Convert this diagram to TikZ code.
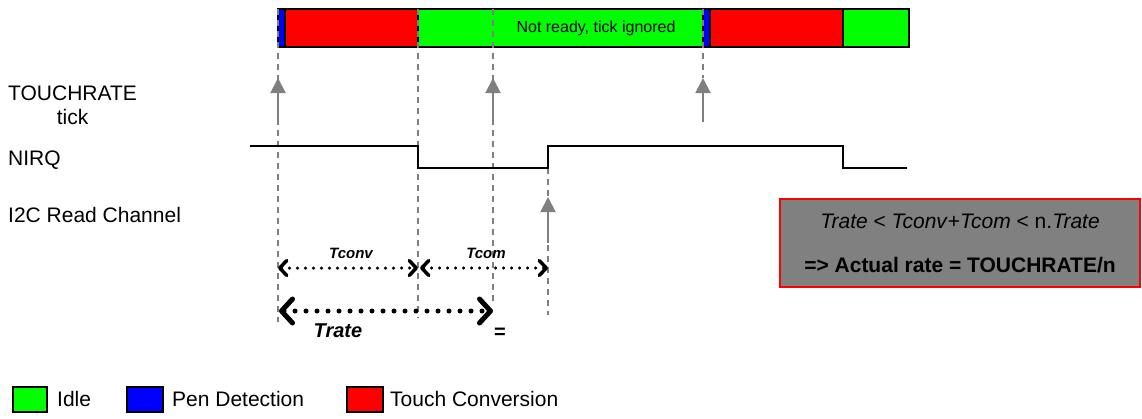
\documentclass[tikz,border=0pt]{standalone}
\usepackage{fontspec}
\setmainfont{Liberation Sans}
\usetikzlibrary{arrows.meta}

\definecolor{idlegreen}{RGB}{0,255,0}
\definecolor{penblue}{RGB}{0,0,255}
\definecolor{convred}{RGB}{255,0,0}
\definecolor{guidegray}{RGB}{128,128,128}

\begin{document}
\begin{tikzpicture}[x=1pt, y=-1pt,
   phase/.style={draw=black, line width=1.5pt},
   guide/.style={draw=guidegray, line width=1.3pt, dash pattern=on 6pt off 5pt},
   tickarrow/.style={draw=guidegray, line width=2pt, -{Triangle[length=15pt,width=15pt]}},
   span/.style={line width=3.5pt, line cap=round, dash pattern=on 0pt off 8pt,
                {Straight Barb[length=7pt,width=15pt,round]}-{Straight Barb[length=7pt,width=15pt,round]}},
   bigspan/.style={line width=5pt, line cap=round, dash pattern=on 0pt off 11pt,
                {Straight Barb[length=11pt,width=24pt,round]}-{Straight Barb[length=11pt,width=24pt,round]}},
   every node/.style={font=\fontsize{21}{24}\selectfont, inner sep=0pt}]

\useasboundingbox (0,0) rectangle (1142,418);

% state bar
\draw[phase, fill=penblue]   (278,9) rectangle (285,47);
\draw[phase, fill=convred]   (285,9) rectangle (418,47);
\draw[phase, fill=idlegreen] (418,9) rectangle (703,47);
\draw[phase, fill=penblue]   (703,9) rectangle (710,47);
\draw[phase, fill=convred]   (710,9) rectangle (843,47);
\draw[phase, fill=idlegreen] (843,9) rectangle (909,47);
\node[font=\fontsize{16}{19}\selectfont] (ignored) at (596,28) {Not ready, tick ignored};

% signal names
\node[anchor=west, align=center] (touchrate) at (8,105) {TOUCHRATE\\tick};
\node[anchor=west] (nirq) at (8,160) {NIRQ};
\node[anchor=west] (i2c) at (8,215) {I2C Read Channel};

% time marks
\draw[guide] (278,9) -- (278,322);
\draw[guide] (418,9) -- (418,318);
\draw[guide] (493,9) -- (493,305);
\draw[guide] (703,9) -- (703,78);
\draw[guide] (548,168) -- (548,315);

\draw[tickarrow] (278,122) -- (278,78);
\draw[tickarrow] (493,122) -- (493,78);
\draw[tickarrow] (703,122) -- (703,78);
\draw[tickarrow] (548,243) -- (548,197);

% NIRQ level
\draw[line width=2pt] (250,146) -- (418,146) -- (418,168) -- (548,168)
    -- (548,146) -- (843,146) -- (843,168) -- (907,168);

% durations
\draw[span] (278,268) -- (418,268);
\draw[span] (420,268) -- (548,268);
\node[font=\fontsize{15}{18}\selectfont\bfseries\itshape] (tconv) at (351,253) {Tconv};
\node[font=\fontsize{15}{18}\selectfont\bfseries\itshape] (tcom) at (486,253) {Tcom};
\draw[bigspan] (279,311) -- (493,311);
\node[font=\fontsize{20}{24}\selectfont\bfseries\itshape] (trate) at (338,331) {Trate};
\node[font=\fontsize{20}{24}\selectfont\bfseries] (equal) at (500,333) {=};

% rule box
\node[draw=convred, line width=2pt, fill=guidegray, minimum width=360, minimum height=88,
      align=center] (rule) at (960,243)
    {\textit{Trate} < \textit{Tconv}+\textit{Tcom} < n.\textit{Trate}\\[20pt]
     \textbf{=> Actual rate = TOUCHRATE/n}};

% legend
\draw[phase, fill=idlegreen] (13,387) rectangle (47,412);
\node[anchor=west] (idle) at (57,399) {Idle};
\draw[phase, fill=penblue] (127,387) rectangle (163,412);
\node[anchor=west] (pen) at (172,399) {Pen Detection};
\draw[phase, fill=convred] (347,387) rectangle (383,412);
\node[anchor=west] (conv) at (390,399) {Touch Conversion};

\end{tikzpicture}
\end{document}
